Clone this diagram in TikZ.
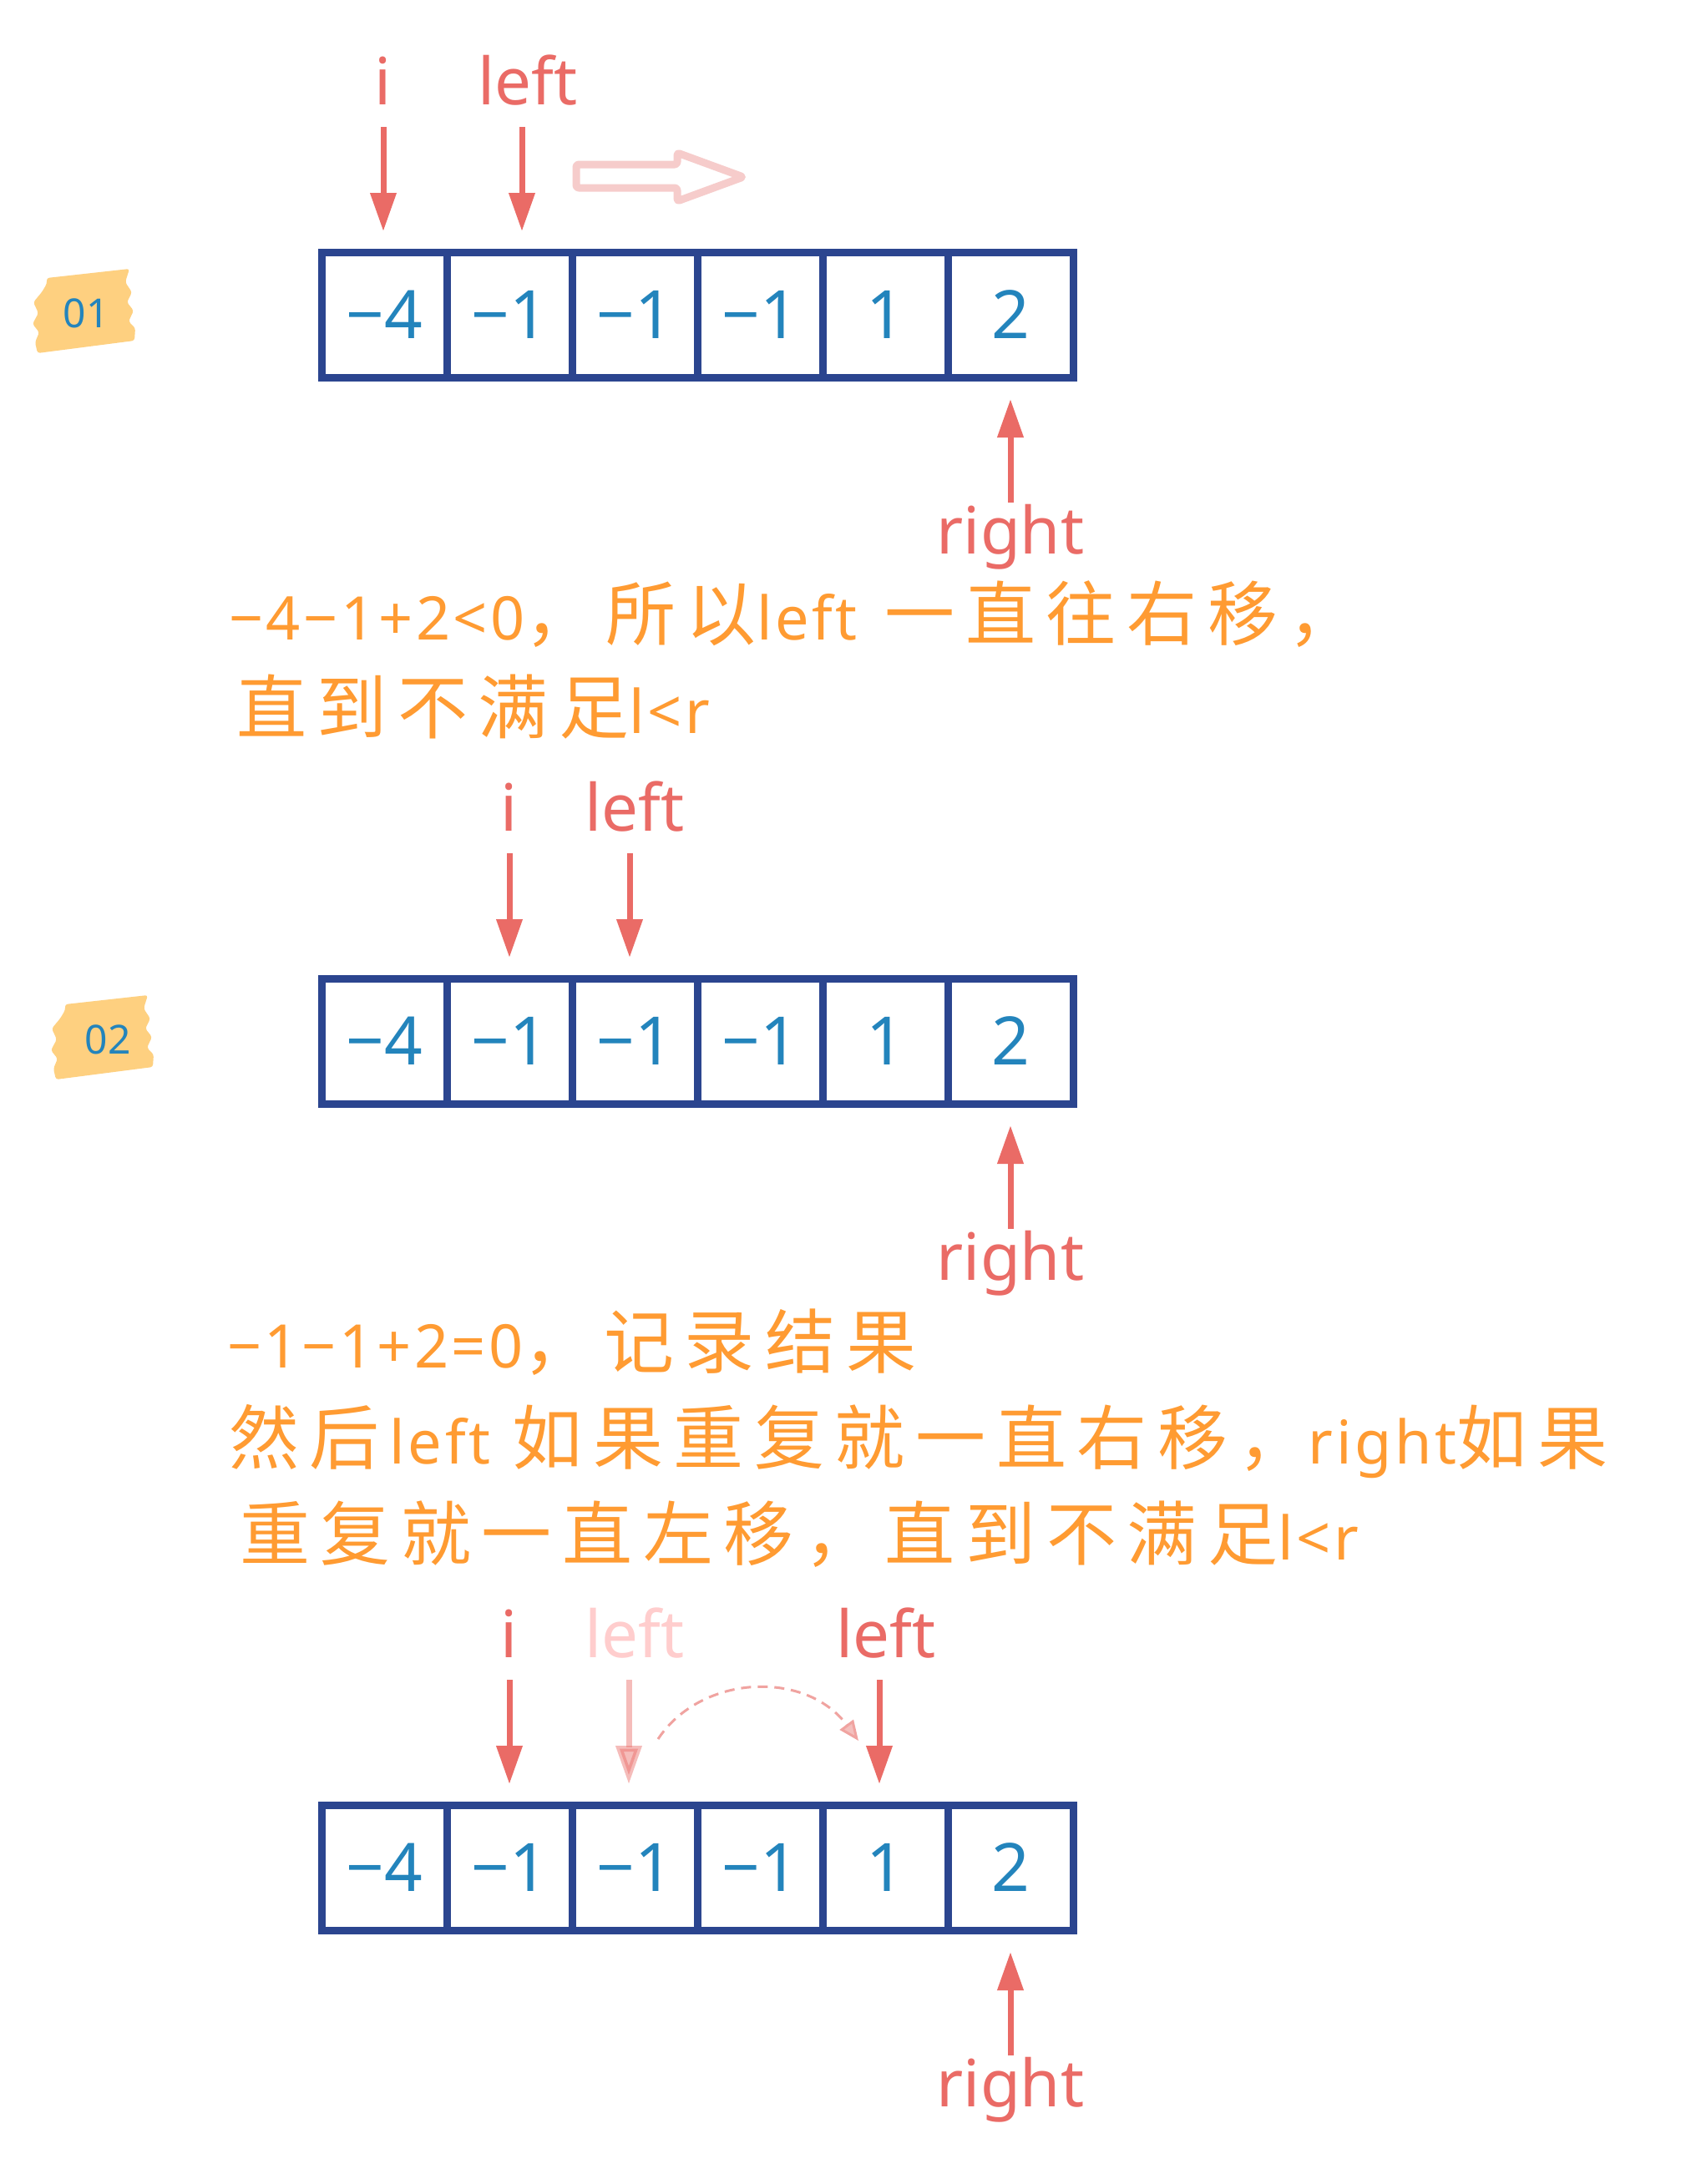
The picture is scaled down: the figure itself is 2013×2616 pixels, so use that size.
\documentclass[tikz,border=0pt]{standalone}
\usepackage{fontspec}
\setmainfont{Noto Sans}
\newfontfamily\cjk[LetterSpace=15]{Noto Sans CJK SC}
\newfontfamily\lat[LetterSpace=5]{Noto Sans}
\usetikzlibrary{arrows.meta}
\definecolor{frame}{RGB}{43,69,143}
\definecolor{numblue}{RGB}{35,132,188}
\definecolor{ptrred}{RGB}{234,107,102}
\definecolor{txtorange}{RGB}{255,155,50}
\definecolor{badgeyellow}{RGB}{254,208,128}
\definecolor{palepink}{RGB}{246,204,203}
\definecolor{fadedtxt}{RGB}{255,205,205}
\definecolor{dashpink}{RGB}{240,163,160}
\tikzset{
  cell/.style={draw=frame, line width=9pt, minimum width=150pt, minimum height=150pt,
    inner sep=0pt, outer sep=0pt, text=numblue, font=\fontsize{80}{80}\selectfont},
  ptr/.style={draw=ptrred, line width=7pt, -{Triangle[length=46pt,width=30pt]}},
  fadedptr/.style={ptr, draw opacity=0.45, fill opacity=0.45},
  lbl/.style={anchor=base, inner sep=0pt, text=ptrred, font=\fontsize{78}{78}\selectfont},
  fadedlbl/.style={lbl, text=fadedtxt},
  txtline/.style={anchor=base west, inner sep=0pt, text=txtorange, font=\fontsize{72}{80}\selectfont},
  badge/.style={fill=badgeyellow, rounded corners=3pt},
  badgetxt/.style={inner sep=0pt, text=numblue, font=\fontsize{48}{48}\selectfont},
  fatarrow/.style={draw=palepink, line width=9pt, rounded corners=3pt, line join=round},
  curvearrow/.style={draw=dashpink, line width=3pt, dash pattern=on 12pt off 8pt,
    -{Triangle[length=24pt,width=20pt,fill=dashpink!70!white]}}
}
\newcommand{\CJK}[1]{{\cjk\fontsize{84}{90}\selectfont #1}}
\begin{document}
\begin{tikzpicture}[x=1pt,y=-1pt]
\useasboundingbox[fill=white] (0,0) rectangle (2013,2616);

% ---------- arrays ----------
\foreach \r/\yc in {a/377, b/1247, c/2237}{
  \foreach \k/\v in {1/−4, 2/−1, 3/−1, 4/−1, 5/1, 6/2}{
    \node[cell] (\r\k) at ({385+150*(\k-0.5)}, \yc) {\v};
  }
}

% ---------- badges ----------
\foreach \dx/\dy in {0/0, 22/870}{
  \begin{scope}[shift={(\dx,\dy)}]
    \fill[badge] (56,333) -- (155,322) -- (150,338) -- (158,350) -- (152,362) -- (160,372)
      -- (154,385) -- (162,393) -- (161,408) -- (45,423) -- (42,410) -- (47,398)
      -- (39,388) -- (46,375) -- (40,362) -- (50,350) -- (56,340) -- cycle;
  \end{scope}
}
\node[badgetxt] (bt1) at (103,375) {01};
\node[badgetxt] (bt2) at (129,1245) {02};

% ---------- step 1 ----------
\node[lbl] (i1) at (459,125) {i};
\node[lbl] (l1) at (632,125) {left};
\coordinate (i1s) at (459,152); \coordinate (i1e) at (459,277);
\coordinate (l1s) at (625,152); \coordinate (l1e) at (625,277);
\draw[ptr] (i1s) -- (i1e);
\draw[ptr] (l1s) -- (l1e);
\draw[fatarrow] (690,197) -- (811,197) -- (811,183) -- (890,212) -- (811,241) -- (811,225) -- (690,225) -- cycle;
\coordinate (r1s) at (1210,602); \coordinate (r1e) at (1210,478);
\draw[ptr] (r1s) -- (r1e);
\node[lbl] (r1) at (1210,663) {right};

\node[txtline] (t1) at (274,766) {{\lat −4−1+2<0}\CJK{，所以}{\lat left}\hspace{33pt}\CJK{一直往右移，}};
\node[txtline] (t2) at (283,878) {\CJK{直到不满足}{\lat l<r}};

% ---------- step 2 ----------
\node[lbl] (i2) at (610,995) {i};
\node[lbl] (l2) at (760,995) {left};
\coordinate (i2s) at (610,1022); \coordinate (i2e) at (610,1147);
\coordinate (l2s) at (754,1022); \coordinate (l2e) at (754,1147);
\draw[ptr] (i2s) -- (i2e);
\draw[ptr] (l2s) -- (l2e);
\coordinate (r2s) at (1210,1472); \coordinate (r2e) at (1210,1348);
\draw[ptr] (r2s) -- (r2e);
\node[lbl] (r2) at (1210,1533) {right};

\node[txtline] (t3) at (272,1638) {{\lat −1−1+2=0}\CJK{，记录结果}};
\node[txtline] (t4) at (274,1753) {\CJK{然后}\hspace{12pt}{\lat left}\hspace{26pt}\CJK{如果重复就一直右移，}{\lat right}\CJK{如果}};
\node[txtline] (t5) at (287,1868) {\CJK{重复就一直左移，直到不满足}{\lat l<r}};

% ---------- step 3 ----------
\node[lbl] (i3) at (610,1985) {i};
\node[fadedlbl] (lf3) at (760,1985) {left};
\node[lbl] (l3) at (1061,1985) {left};
\coordinate (i3s) at (610,2012); \coordinate (i3e) at (610,2137);
\coordinate (lf3s) at (753,2012); \coordinate (lf3e) at (753,2137);
\coordinate (l3s) at (1053,2012); \coordinate (l3e) at (1053,2137);
\draw[ptr] (i3s) -- (i3e);
\draw[fadedptr] (lf3s) -- (lf3e);
\draw[ptr] (l3s) -- (l3e);
\coordinate (cvs) at (788,2083); \coordinate (cve) at (1028,2085);
\draw[curvearrow] (cvs) .. controls (840,2005) and (965,2000) .. (cve);
\coordinate (r3s) at (1210,2462); \coordinate (r3e) at (1210,2338);
\draw[ptr] (r3s) -- (r3e);
\node[lbl] (r3) at (1210,2523) {right};
\end{tikzpicture}
\end{document}
